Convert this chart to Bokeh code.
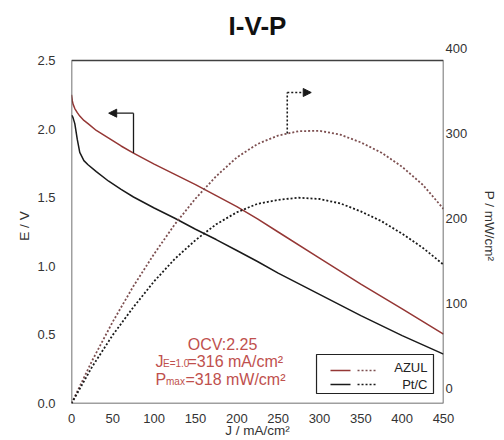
import numpy as np
from bokeh.plotting import figure
from bokeh.models import (Range1d, LinearAxis, FixedTicker, NumeralTickFormatter,
                          BoxAnnotation, Label, Arrow, NormalHead)
from bokeh.embed import file_html
from bokeh.resources import INLINE

# ---------------- data ----------------
J_E = [0, 1, 2, 4, 7, 10, 15, 20, 30, 45, 60, 75, 100, 125, 150, 175, 200, 225, 250, 300, 350, 400, 450]
E_AZUL = [2.25, 2.205, 2.18, 2.15, 2.12, 2.095, 2.063, 2.04, 1.99, 1.935, 1.877, 1.825, 1.745, 1.67,
          1.595, 1.515, 1.435, 1.345, 1.25, 1.06, 0.87, 0.69, 0.505]
E_PT = [2.10, 2.095, 2.08, 2.04, 1.925, 1.83, 1.77, 1.74, 1.69, 1.62, 1.56, 1.505, 1.425, 1.35,
        1.27, 1.195, 1.115, 1.035, 0.95, 0.795, 0.64, 0.495, 0.36]

J_P = [0, 25, 50, 75, 100, 125, 150, 175, 200, 225, 250, 275, 300, 325, 350, 375, 400, 425, 450]
P_AZUL = [0, 50, 95.5, 137, 174.5, 209, 239, 265, 287, 302.6, 312.5, 317.6, 318, 313.6, 304.5,
          292.5, 276, 255, 227]
P_PT = [0, 42.9, 80, 112.5, 142.5, 168.7, 190.5, 209, 223, 232.9, 237.5, 240, 238.5, 233.4, 224,
        212.6, 198, 181.5, 162]

J_TICKS = [0, 50, 100, 150, 200, 250, 300, 350, 400, 450]
E_TICKS = [0.0, 0.5, 1.0, 1.5, 2.0, 2.5]
P_TICKS = [0, 100, 200, 300, 400]
SERIES = ["AZUL", "Pt/C"]

# ---------------- layout ----------------
FONT = "Liberation Sans"
RED = "#953735"
RED_DOT = "#7d4f50"
BLACK = "#1a1a1a"
TEXT = "#333333"
ANNO = "#c0504d"

FRAME_H = 355          # frame height in px
BOX_H = 343            # height of the drawn box (E 0..2.5 / P 0..400)
E_TOP = 2.5 * FRAME_H / BOX_H
P_TOP = 400 * FRAME_H / BOX_H
LBL_SHIFT = 15         # right-axis labels sit 15 px higher than the data scale
P_SPAN = 400 / ((FRAME_H - LBL_SHIFT) / FRAME_H)

p = figure(width=504, height=440, output_backend="svg", toolbar_location=None,
           x_range=Range1d(0, 450), y_range=Range1d(0, E_TOP),
           min_border_left=71, min_border_right=61, min_border_top=48, min_border_bottom=37,
           title="I-V-P")
p.outline_line_color = None
p.xgrid.visible = False
p.ygrid.visible = False

p.title.align = "center"
p.title.text_font = FONT
p.title.text_font_size = "26px"
p.title.text_font_style = "bold"
p.title.text_color = "#111111"
p.title.standoff = 16

p.extra_y_ranges = {"p": Range1d(0, P_TOP), "plabel": Range1d(400 - P_SPAN, 400)}

right = LinearAxis(y_range_name="plabel", axis_label="P / mW/cm²")
p.add_layout(right, "right")

p.xaxis.ticker = FixedTicker(ticks=J_TICKS)
p.yaxis[0].ticker = FixedTicker(ticks=E_TICKS)
p.yaxis[0].formatter = NumeralTickFormatter(format="0.0")
right.ticker = FixedTicker(ticks=P_TICKS)
p.xaxis.axis_label = "J / mA/cm²"
p.yaxis[0].axis_label = "E / V"

for ax in [p.xaxis[0], p.yaxis[0], right]:
    ax.axis_line_color = None
    ax.major_tick_line_color = None
    ax.minor_tick_line_color = None
    ax.major_tick_out = 0
    ax.major_tick_in = 0
    ax.minor_tick_out = 0
    ax.minor_tick_in = 0
    ax.major_label_text_font = FONT
    ax.major_label_text_font_size = "13px"
    ax.major_label_text_color = TEXT
    ax.axis_label_text_font = FONT
    ax.axis_label_text_font_size = "13.5px"
    ax.axis_label_text_font_style = "normal"
    ax.axis_label_text_color = TEXT

p.xaxis.major_label_standoff = 10
p.xaxis.axis_label_standoff = -3
p.yaxis[0].major_label_standoff = 16
p.yaxis[0].axis_label_standoff = 2
right.major_label_standoff = 2
right.axis_label_standoff = 12

# plot box
p.add_layout(BoxAnnotation(left=0, right=450, bottom=0, top=2.5, fill_alpha=0,
                           line_color="#404040", line_alpha=1, line_width=1.5))

# curves
p.line(J_E, E_AZUL, color=RED, line_width=1.5)
p.line(J_E, E_PT, color=BLACK, line_width=1.5)
p.line(J_P, P_AZUL, y_range_name="p", color=RED_DOT, line_width=1.8, line_dash="2 2")
p.line(J_P, P_PT, y_range_name="p", color=BLACK, line_width=1.8, line_dash="2 2")

# axis-pointer arrows
AR_L_J, AR_L_TOP, AR_L_TIP = 75, 2.116, 45
e_at = float(np.interp(AR_L_J, J_E, E_AZUL))
p.line([AR_L_J, AR_L_J], [e_at, AR_L_TOP], color=BLACK, line_width=1.3)
p.add_layout(Arrow(x_start=AR_L_J, y_start=AR_L_TOP, x_end=AR_L_TIP, y_end=AR_L_TOP,
                   line_color=BLACK, line_width=1.3,
                   end=NormalHead(size=8, fill_color=BLACK, line_color=BLACK)))
AR_R_J, AR_R_TOP, AR_R_TIP = 261, 362.7, 290
p_at = float(np.interp(AR_R_J, J_P, P_AZUL))
p.line([AR_R_J, AR_R_J], [p_at, AR_R_TOP], y_range_name="p", color=BLACK, line_width=1.6,
       line_dash="2 2")
p.add_layout(Arrow(x_start=AR_R_J, y_start=AR_R_TOP, x_end=AR_R_TIP, y_end=AR_R_TOP,
                   y_range_name="p", line_color=BLACK, line_width=1.6, line_dash="2 2",
                   end=NormalHead(size=8, fill_color=BLACK, line_color=BLACK)))

# annotation text
LIFT = 6  # px

def lab(x, y, text, size, xo=0, yo=0, align="left"):
    p.add_layout(Label(x=x, y=y, text=text, x_offset=xo, y_offset=yo + LIFT, text_align=align,
                       text_baseline="alphabetic", text_font=FONT, text_font_size=size,
                       text_color=ANNO))

lab(182.7, 0.386, "OCV:2.25", "16px", align="center")
lab(101.6, 0.259, "J", "16px")
lab(101.6, 0.259, "E=1.0", "10px", xo=7.5, yo=-1.5)
lab(101.6, 0.259, "=316 mA/cm²", "16px", xo=32)
lab(101.6, 0.131, "P", "16px")
lab(101.6, 0.131, "max", "10px", xo=10.5, yo=-1.5)
lab(101.6, 0.131, "=318 mW/cm²", "16px", xo=30)

# legend (solid = E, dotted = P)
p.add_layout(BoxAnnotation(left=296.4, right=437.9, bottom=0.073, top=0.357, level="underlay",
                           fill_color="white", fill_alpha=1, line_color="#222222",
                           line_alpha=1, line_width=1.2))
LEG_Y = [0.2405, 0.1385]
LEG_TXT_Y = [0.226, 0.102]
LEG_COL = [RED, BLACK]
LEG_DCOL = [RED_DOT, BLACK]
p.segment(x0=[313.3] * 2, x1=[337.5] * 2, y0=LEG_Y, y1=LEG_Y, color=LEG_COL, line_width=1.5)
p.segment(x0=[346.0] * 2, x1=[370.2] * 2, y0=LEG_Y, y1=LEG_Y, color=LEG_DCOL, line_width=1.6,
          line_dash="2 2")
for name, ty in zip(SERIES, LEG_TXT_Y):
    p.add_layout(Label(x=430.6, y=ty, text=name, text_align="right", text_baseline="alphabetic",
                       y_offset=5, text_font=FONT, text_font_size="13px", text_color="#222222"))

open("out.html", "w").write(file_html(p, INLINE))
